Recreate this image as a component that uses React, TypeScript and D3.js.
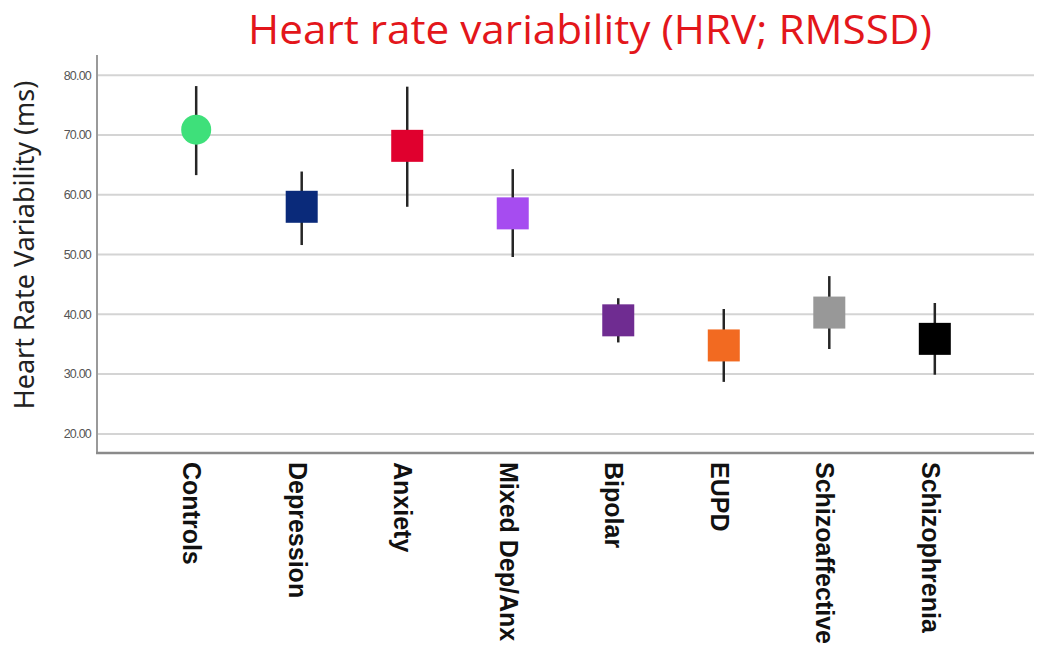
import * as d3 from "d3";

const categories = [
  "Controls",
  "Depression",
  "Anxiety",
  "Mixed Dep/Anx",
  "Bipolar",
  "EUPD",
  "Schizoaffective",
  "Schizophrenia",
];
const means = [70.9, 58.0, 68.2, 56.9, 39.0, 34.8, 40.3, 35.9];
const upper = [78.2, 63.9, 78.1, 64.3, 42.7, 40.9, 46.4, 41.9];
const lower = [63.3, 51.6, 58.0, 49.6, 35.3, 28.7, 34.2, 29.9];
const colors = ["#3ee07a", "#0a2a7a", "#e0002e", "#a64cf0", "#6f2c91", "#f26a21", "#989898", "#000000"];
const shapes = ["circle", "square", "square", "square", "square", "square", "square", "square"];
const yTicks = [20, 30, 40, 50, 60, 70, 80];

const W = 1038;
const H = 648;
const left = 97;
const right = 1034;
const top = 55;
const bottom = 453;

export default function App() {
  const x = d3.scalePoint<string>().domain(categories).range([left, right]).padding(0.94);
  const y = d3.scaleLinear().domain([16.8, 83.4]).range([bottom, top]);
  const sq = 32;

  return (
    <svg width={W} height={H} style={{ position: "absolute", left: 0, top: 0, background: "#fff" }}>
      <text
        x={590}
        y={44}
        textAnchor="middle"
        fill="#e3161b"
        fontFamily="'Open Sans', 'Liberation Sans', sans-serif"
        fontSize={40}
        textLength={684}
        lengthAdjust="spacingAndGlyphs"
      >
        Heart rate variability (HRV; RMSSD)
      </text>

      {yTicks.map((t) => (
        <g key={t}>
          <line x1={left} x2={right} y1={y(t)} y2={y(t)} stroke="#d4d4d4" strokeWidth={2} />
          <text
            x={91}
            y={y(t)}
            dy="0.35em"
            textAnchor="end"
            fontFamily="'Liberation Sans', Arial, sans-serif"
            fontSize={12.5}
            fill="#555"
            letterSpacing={-0.8}
          >
            {t.toFixed(2)}
          </text>
        </g>
      ))}

      <line x1={left} x2={left} y1={top} y2={bottom} stroke="#9a9a9a" strokeWidth={2} />
      <line x1={left - 1} x2={right} y1={bottom} y2={bottom} stroke="#8a8a8a" strokeWidth={2.5} />

      <text
        transform={`translate(34,245) rotate(-90)`}
        textAnchor="middle"
        fontFamily="'Noto Sans', 'Liberation Sans', sans-serif"
        fontSize={27}
        fill="#222"
      >
        Heart Rate Variability (ms)
      </text>

      {categories.map((c, i) => {
        const cx = x(c)!;
        return (
          <g key={c}>
            <line x1={cx} x2={cx} y1={y(upper[i])} y2={y(lower[i])} stroke="#262626" strokeWidth={2.5} />
            {shapes[i] === "circle" ? (
              <circle cx={cx} cy={y(means[i])} r={15} fill={colors[i]} />
            ) : (
              <rect x={cx - sq / 2} y={y(means[i]) - sq / 2} width={sq} height={sq} fill={colors[i]} />
            )}
            <text
              transform={`translate(${cx - 13},462) rotate(90)`}
              fontFamily="'Liberation Sans', Arial, sans-serif"
              fontWeight="bold"
              fontSize={25}
              fill="#111"
            >
              {c}
            </text>
          </g>
        );
      })}
    </svg>
  );
}
